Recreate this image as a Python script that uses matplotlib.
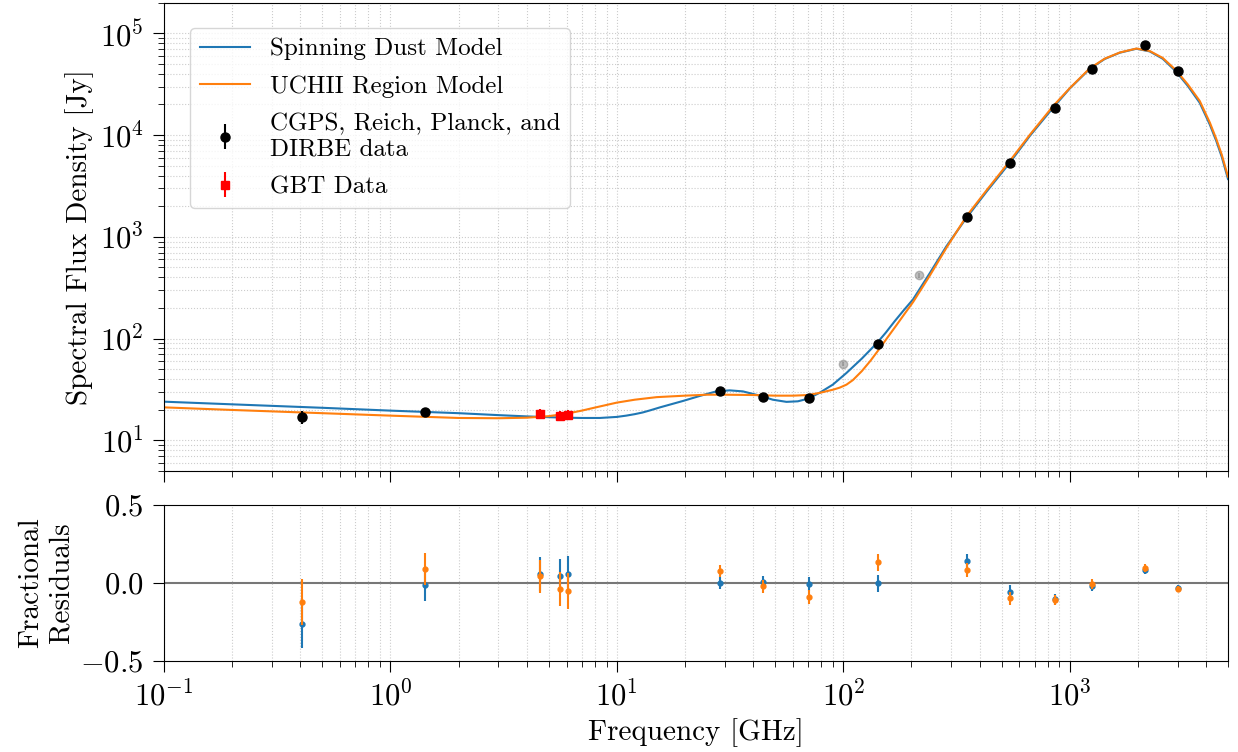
import numpy as np
import matplotlib
matplotlib.use("Agg")
import matplotlib.pyplot as plt

plt.rcParams['font.family'] = 'serif'
plt.rcParams['font.serif'] = ['cmr10']
plt.rcParams['mathtext.fontset'] = 'cm'
plt.rcParams['axes.formatter.use_mathtext'] = True
plt.rcParams['axes.unicode_minus'] = True

# ---- data ----
# used data: CGPS, Reich, Planck, DIRBE
freq_data = [0.408, 1.42, 28.4, 44.1, 70.4, 143, 353, 545, 857, 1249, 2141, 2998]
flux_data = [17.0, 19.0, 30.3, 26.9, 26.1, 89.3, 1574, 5260, 18300, 44500, 76000, 42500]
fracerr_data = [0.15, 0.105, 0.036, 0.04, 0.045, 0.053, 0.045, 0.04, 0.034, 0.032, 0.026, 0.018]

# GBT data
freq_gbt = [4.57, 5.6, 6.1]
flux_gbt = [18.2, 17.5, 17.8]
fracerr_gbt = [0.11, 0.11, 0.113]

# excluded Planck points (grey)
freq_excl = [100, 217]
flux_excl = [56.4, 419]
fracerr_excl = [0.04, 0.05]

# spinning dust model curve
freq_spin = [0.1, 0.2, 0.5, 1, 2, 3, 4, 5, 6, 7, 8.4, 10, 11, 12, 13, 14, 15.5,
             19.6, 23.2, 27.5, 31.5, 36, 42.8, 48.8, 56.1, 63, 69.9, 78.7, 89.9,
             103.3, 120.7, 141, 154.1, 168.8, 184.9, 203.3, 241, 285.4, 349.9,
             430, 536, 666, 843.8, 1000, 1225, 1427, 1663, 1970, 2255, 2575,
             2938, 3319, 3750, 4155, 4443, 4694, 5000]
flux_spin = [24.0, 22.6, 20.9, 19.6, 18.5, 17.7, 17.2, 16.9, 16.7, 16.6, 16.6,
             17.0, 17.5, 18.1, 18.8, 19.7, 21.1, 24.4, 27.3, 30.3, 31.0, 30.3,
             27.5, 25.1, 23.9, 24.2, 25.7, 29.4, 35.3, 46.0, 63.6, 90.7, 114.6,
             148.6, 190, 243, 440, 808, 1538, 2796, 5140, 9800, 18560, 28700,
             44670, 55970, 64500, 70570, 66440, 56260, 42460, 30520, 20780,
             12700, 8700, 6100, 3700]

# UCHII region model curve
freq_uchii = [0.1, 0.2, 0.5, 1, 2, 3, 4, 5, 6, 7, 8, 10, 12, 15, 20, 25, 30, 40,
              50, 60, 70, 78.7, 90.2, 96.5, 103.3, 110.2, 120.7, 132, 143.5,
              157.2, 171.8, 186.8, 203.3, 241, 285.4, 349.9, 430, 536, 666,
              843.8, 1000, 1225, 1427, 1663, 1970, 2255, 2575, 2938, 3319, 3750,
              4155, 4443, 4694, 5000]
flux_uchii = [21.1, 19.9, 18.5, 17.5, 16.6, 16.5, 16.7, 17.3, 18.3, 19.6, 21.0,
              23.5, 25.1, 26.6, 27.5, 28.1, 28.1, 27.9, 27.5, 27.5, 27.9, 29.3,
              31.5, 33.0, 35.3, 39.1, 47.9, 60.8, 78.0, 103.5, 135.8, 176.2,
              228.5, 416, 780, 1594, 2884, 5340, 10050, 19240, 28900, 45200,
              56350, 64800, 70900, 67050, 57290, 43650, 31560, 21670, 13300,
              9100, 6400, 3900]

# residuals at all fitted frequencies
freq_res = [0.408, 1.42, 4.57, 5.6, 6.1, 28.4, 44.1, 70.4, 143, 353, 545, 857, 1249, 2141, 2998]
res_spin = [-0.265, -0.013, 0.058, 0.043, 0.06, 0.0, 0.004, -0.004, -0.002,
            0.139, -0.056, -0.105, -0.019, 0.085, -0.03]
res_uchii = [-0.122, 0.09, 0.043, -0.038, -0.051, 0.077, -0.021, -0.09, 0.133,
             0.081, -0.098, -0.109, -0.009, 0.096, -0.036]
res_err = [0.15, 0.105, 0.107, 0.11, 0.113, 0.036, 0.04, 0.045, 0.053, 0.045,
           0.042, 0.034, 0.032, 0.026, 0.018]

# ---- figure ----
W, H = 1238, 752
fig = plt.figure(figsize=(W / 100, H / 100), dpi=100)
left = 164 / W
width = (1228 - 164) / W
ax1 = fig.add_axes([left, 1 - 471 / H, width, (471 - 2.7) / H])
ax2 = fig.add_axes([left, 1 - 661 / H, width, (661 - 505) / H], sharex=ax1)

fs = 22
fl = 21
ax1.plot(freq_spin, flux_spin, color='C0', lw=1.5, label='Spinning Dust Model', zorder=2)
ax1.plot(freq_uchii, flux_uchii, color='C1', lw=1.5, label='UCHII Region Model', zorder=2)

ax1.errorbar(freq_excl, flux_excl, yerr=np.array(fracerr_excl) * np.array(flux_excl),
             fmt='o', color='gray', ms=6, alpha=0.5, elinewidth=1.5, zorder=3)
ax1.errorbar(freq_data, flux_data, yerr=np.array(fracerr_data) * np.array(flux_data),
             fmt='o', color='black', ms=6.5, elinewidth=1.5,
             label='CGPS, Reich, Planck, and\nDIRBE data', zorder=4)
ax1.errorbar(freq_gbt, flux_gbt, yerr=np.array(fracerr_gbt) * np.array(flux_gbt),
             fmt='s', color='red', ms=6, elinewidth=1.5, label='GBT Data', zorder=4)

ax1.set_xscale('log')
ax1.set_yscale('log')
ax1.set_xlim(0.1, 5000)
ax1.set_ylim(5, 2e5)
ax1.set_ylabel('Spectral Flux Density [Jy]', fontsize=fl)
ax1.grid(True, which='both', ls=':', color='#cccccc', lw=0.8)
ax1.tick_params(axis='both', which='major', labelsize=fs, length=7.7, pad=7)
ax1.tick_params(axis='both', which='minor', length=4.1)
ax1.tick_params(labelbottom=False)
ax1.legend(loc='upper left', bbox_to_anchor=(0.024, 0.946), borderaxespad=0,
           fontsize=18, framealpha=0.8, labelspacing=0.6)

ax2.axhline(0, color='#777777', lw=1.5, zorder=1)
ax2.errorbar(freq_res, res_spin, yerr=res_err, fmt='o', color='C0', ms=3.5,
             elinewidth=1.5, zorder=3)
ax2.errorbar(freq_res, res_uchii, yerr=res_err, fmt='o', color='C1', ms=3.5,
             elinewidth=1.5, zorder=4)
ax2.set_ylim(-0.5, 0.5)
ax2.set_yticks([-0.5, 0.0, 0.5])
ax2.set_ylabel('Fractional\nResiduals', fontsize=fl)
ax2.set_xlabel('Frequency [GHz]', fontsize=fl)
ax2.grid(True, which='both', axis='x', ls=':', color='#cccccc', lw=0.8)
ax2.tick_params(axis='both', which='major', labelsize=fs, length=7.7, pad=7)
ax2.tick_params(axis='both', which='minor', length=4.1)

fig.savefig('out.png', dpi=100)
